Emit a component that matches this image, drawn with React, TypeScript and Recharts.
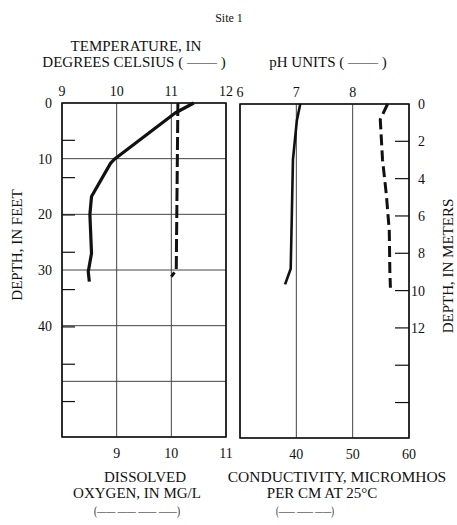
import {
  CartesianGrid,
  ReferenceArea,
  Scatter,
  ScatterChart,
  XAxis,
  YAxis,
} from "recharts";

const SERIF = '"Liberation Serif", "Times New Roman", serif';
const INK = "#111";
const GRID = "#444";

// depths are in feet
const TEMP_DEPTH = [0, 1.8, 10, 10.8, 16.8, 20, 27, 30.3, 32.1];
const TEMP_C = [11.41, 11.07, 9.97, 9.89, 9.54, 9.51, 9.54, 9.48, 9.5];
const DO_DEPTH = [0, 10, 20, 30, 31.2];
const DO_MGL = [10.12, 10.11, 10.1, 10.09, 10.0];
const PH_DEPTH = [0, 2.9, 10, 20, 29.6, 32.4];
const PH_UNITS = [7.07, 7.01, 6.94, 6.92, 6.9, 6.8];
const COND_DEPTH = [0, 2.8, 10, 16.5, 22.8, 30, 33];
const COND_US = [56.2, 54.9, 55.3, 56.0, 56.5, 56.6, 56.7];

const TEMP_TICKS = [9, 10, 11, 12];
const DO_TICKS = [8, 9, 10, 11];
const PH_TICKS = [6, 7, 8, 9];
const COND_TICKS = [30, 40, 50, 60];
const FEET_TICKS = [0, 10, 20, 30, 40, 50, 60];
const FEET_LABELS = [0, 10, 20, 30, 40];
const METER_TICKS = [0, 2, 4, 6, 8, 10, 12, 14, 16];
const METER_LABELS = [0, 2, 4, 6, 8, 10, 12];
const METER_BOTTOM = 17.9; // the scan's meter scale runs a bit short of 60 ft

const zip = (depths: number[], values: number[]) =>
  depths.map((depth, i) => ({ depth, value: values[i] }));

const tickStyle = { fill: INK, fontSize: 14, fontFamily: SERIF };

function hideFirst(v: number, i: number) {
  return i === 0 ? "" : String(v);
}

function hideLast(v: number, i: number) {
  return i === 3 ? "" : String(v);
}

function InnerMeterTick(props: any) {
  const { x, y, payload } = props;
  if (payload.value === 0) return <g />;
  return <line x1={x} x2={x + 13} y1={y} y2={y} stroke={INK} strokeWidth={1.2} />;
}

function RightMeterTick(props: any) {
  const { x, y, payload } = props;
  const v = payload.value as number;
  return (
    <g>
      {v > 0 && (
        <line x1={x - 14} x2={x} y1={y} y2={y} stroke={INK} strokeWidth={1.2} />
      )}
      {METER_LABELS.includes(v) && (
        <text
          x={x + 16}
          y={y + 5}
          textAnchor="end"
          fill={INK}
          fontSize={14}
          fontFamily={SERIF}
        >
          {v}
        </text>
      )}
    </g>
  );
}

const hiddenShape = () => <g />;

function LeftPanel() {
  return (
    <ScatterChart
      width={240}
      height={470}
      margin={{ top: 83, right: 14, bottom: 13, left: 22 }}
    >
      <CartesianGrid
        xAxisId="top"
        yAxisId="ft"
        stroke={GRID}
        strokeWidth={1}
        fill="none"
      />
      <XAxis
        xAxisId="top"
        orientation="top"
        type="number"
        dataKey="value"
        domain={[9, 12]}
        ticks={TEMP_TICKS}
        height={20}
        tickSize={0}
        tickMargin={7}
        axisLine={false}
        tick={tickStyle}
        interval={0}
      />
      <XAxis
        xAxisId="bot"
        orientation="bottom"
        type="number"
        dataKey="value"
        domain={[8, 11]}
        ticks={DO_TICKS}
        tickFormatter={hideFirst}
        height={20}
        tickSize={0}
        tickMargin={11}
        axisLine={false}
        tick={tickStyle}
        interval={0}
      />
      <YAxis
        yAxisId="ft"
        type="number"
        dataKey="depth"
        domain={[0, 60]}
        reversed
        ticks={FEET_TICKS}
        tickFormatter={(v: number) => (FEET_LABELS.includes(v) ? String(v) : "")}
        width={40}
        tickSize={0}
        tickMargin={10}
        axisLine={false}
        tick={tickStyle}
        interval={0}
      />
      <YAxis
        yAxisId="m"
        orientation="left"
        mirror
        type="number"
        dataKey="depth"
        domain={[0, METER_BOTTOM]}
        allowDataOverflow
        reversed
        ticks={METER_TICKS}
        tickSize={0}
        tickMargin={0}
        axisLine={false}
        tickLine={false}
        tick={InnerMeterTick}
        interval={0}
      />
      <ReferenceArea
        xAxisId="top"
        yAxisId="ft"
        x1={9}
        x2={12}
        y1={0}
        y2={60}
        fill="none"
        stroke={INK}
        strokeWidth={1.6}
      />
      <Scatter
        data={zip(TEMP_DEPTH, TEMP_C)}
        xAxisId="top"
        yAxisId="ft"
        fill="none"
        line={{ stroke: INK, strokeWidth: 3.2, strokeLinejoin: "round" }}
        shape={hiddenShape}
        isAnimationActive={false}
      />
      <Scatter
        data={zip(DO_DEPTH, DO_MGL)}
        xAxisId="bot"
        yAxisId="ft"
        fill="none"
        line={{ stroke: INK, strokeWidth: 3, strokeDasharray: "13 4" }}
        shape={hiddenShape}
        isAnimationActive={false}
      />
    </ScatterChart>
  );
}

function RightPanel() {
  return (
    <ScatterChart
      width={227}
      height={470}
      margin={{ top: 84, right: 0, bottom: 12, left: 10 }}
    >
      <CartesianGrid
        xAxisId="top"
        yAxisId="ft"
        stroke={GRID}
        strokeWidth={1}
        fill="none"
      />
      <XAxis
        xAxisId="top"
        orientation="top"
        type="number"
        dataKey="value"
        domain={[6, 9]}
        ticks={PH_TICKS}
        tickFormatter={hideLast}
        height={20}
        tickSize={0}
        tickMargin={7}
        axisLine={false}
        tick={tickStyle}
        interval={0}
      />
      <XAxis
        xAxisId="bot"
        orientation="bottom"
        type="number"
        dataKey="value"
        domain={[30, 60]}
        ticks={COND_TICKS}
        tickFormatter={hideFirst}
        height={20}
        tickSize={0}
        tickMargin={11}
        axisLine={false}
        tick={tickStyle}
        interval={0}
      />
      <YAxis
        yAxisId="ft"
        type="number"
        dataKey="depth"
        domain={[0, 60]}
        reversed
        ticks={FEET_TICKS}
        width={0}
        tick={false}
        tickLine={false}
        axisLine={false}
      />
      <YAxis
        yAxisId="m"
        orientation="right"
        type="number"
        dataKey="depth"
        domain={[0, METER_BOTTOM]}
        allowDataOverflow
        reversed
        ticks={METER_TICKS}
        width={48}
        tickSize={0}
        tickMargin={0}
        axisLine={false}
        tickLine={false}
        tick={RightMeterTick}
        interval={0}
      />
      <ReferenceArea
        xAxisId="top"
        yAxisId="ft"
        x1={6}
        x2={9}
        y1={0}
        y2={60}
        fill="none"
        stroke={INK}
        strokeWidth={1.6}
      />
      <Scatter
        data={zip(PH_DEPTH, PH_UNITS)}
        xAxisId="top"
        yAxisId="ft"
        fill="none"
        line={{ stroke: INK, strokeWidth: 2.6, strokeLinejoin: "round" }}
        shape={hiddenShape}
        isAnimationActive={false}
      />
      <Scatter
        data={zip(COND_DEPTH, COND_US)}
        xAxisId="bot"
        yAxisId="ft"
        fill="none"
        line={{ stroke: INK, strokeWidth: 3, strokeDasharray: "11 5" }}
        shape={hiddenShape}
        isAnimationActive={false}
      />
    </ScatterChart>
  );
}

function Titles() {
  const t = { fill: INK, fontFamily: SERIF, textAnchor: "middle" as const };
  return (
    <svg
      width={457}
      height={525}
      style={{ position: "absolute", left: 0, top: 0, pointerEvents: "none" }}
    >
      <text x={229} y={22} fontSize={12} {...t}>Site 1</text>
      <text x={136} y={51} fontSize={15} {...t}>TEMPERATURE, IN</text>
      <text x={134} y={67} fontSize={15} {...t}>DEGREES CELSIUS ( —— )</text>
      <text x={328} y={67} fontSize={15} {...t}>pH UNITS ( —— )</text>
      <text x={22} y={245} fontSize={15} transform="rotate(-90 22 245)" {...t}>
        DEPTH, IN FEET
      </text>
      <text x={453} y={266} fontSize={15} transform="rotate(-90 453 266)" {...t}>
        DEPTH, IN METERS
      </text>
      <text x={145} y={482} fontSize={15} {...t}>DISSOLVED</text>
      <text x={137} y={498} fontSize={15} {...t}>OXYGEN, IN MG/L</text>
      <text
        x={137}
        y={515}
        fontSize={12}
        textLength={86}
        lengthAdjust="spacingAndGlyphs"
        {...t}
      >
        (—— —— —— ——)
      </text>
      <text x={337} y={482} fontSize={15.5} {...t}>CONDUCTIVITY, MICROMHOS</text>
      <text x={322} y={498} fontSize={15} {...t}>PER CM AT 25°C</text>
      <text
        x={305}
        y={515}
        fontSize={12}
        textLength={58}
        lengthAdjust="spacingAndGlyphs"
        {...t}
      >
        (—— —— ——)
      </text>
    </svg>
  );
}

export default function App() {
  return (
    <div
      style={{
        position: "absolute",
        left: 0,
        top: 0,
        width: 457,
        height: 525,
        background: "#fff",
        overflow: "hidden",
      }}
    >
      <div style={{ position: "absolute", left: 0, top: 0 }}>
        <LeftPanel />
      </div>
      <div style={{ position: "absolute", left: 230, top: 0 }}>
        <RightPanel />
      </div>
      <Titles />
    </div>
  );
}
